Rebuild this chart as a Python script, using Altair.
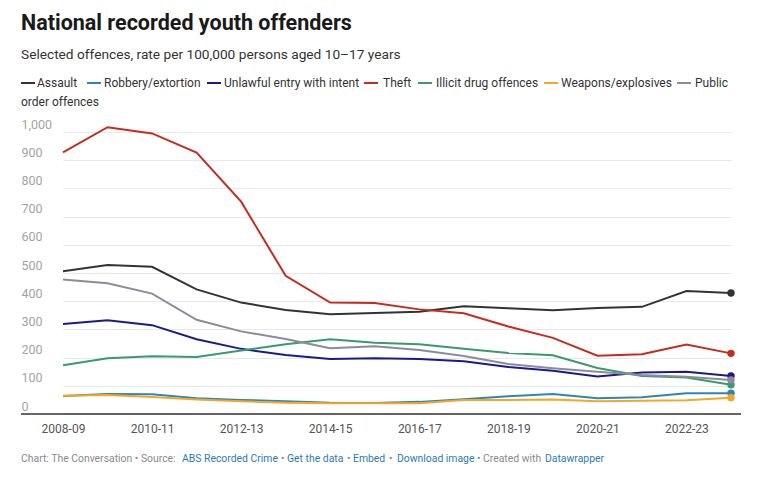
import altair as alt
import pandas as pd

# Financial years on the x axis
YEARS = ["2008-09", "2009-10", "2010-11", "2011-12", "2012-13", "2013-14",
         "2014-15", "2015-16", "2016-17", "2017-18", "2018-19", "2019-20",
         "2020-21", "2021-22", "2022-23", "2023-24"]

SERIES = ["Assault", "Robbery/extortion", "Unlawful entry with intent", "Theft",
          "Illicit drug offences", "Weapons/explosives", "Public order offences"]
COLORS = ["#333333", "#2a86c0", "#1a1a8c", "#c62b1e", "#3a9a6c", "#f7a623", "#8b8b9c"]

# Offenders per 100,000 persons aged 10-17
assault = [506, 528, 522, 442, 395, 369, 354, 358, 363, 382, 375, 368, 376, 380, 436, 429]
robbery = [64, 71, 70, 56, 50, 45, 40, 39, 43, 52, 63, 71, 56, 59, 74, 74]
unlawful_entry = [319, 332, 315, 265, 231, 209, 195, 198, 195, 187, 167, 153, 133, 147, 150, 135]
theft = [928, 1017, 995, 927, 753, 490, 395, 394, 371, 357, 310, 270, 207, 212, 246, 215]
illicit_drugs = [173, 198, 205, 202, 225, 247, 265, 253, 247, 231, 216, 208, 163, 135, 129, 104]
weapons = [65, 67, 60, 51, 45, 40, 38, 38, 38, 50, 50, 51, 45, 47, 49, 58]
public_order = [477, 464, 427, 334, 293, 266, 233, 240, 227, 206, 177, 162, 150, 138, 132, 121]

VALUES = [assault, robbery, unlawful_entry, theft, illicit_drugs, weapons, public_order]

rows = [{"year": y, "series": s, "rate": v}
        for s, vals in zip(SERIES, VALUES) for y, v in zip(YEARS, vals)]
df = pd.DataFrame(rows)

W, H = 720, 282
FONT = "Roboto"
LEFT, TOP = 21, 132

color = alt.Color("series:N", scale=alt.Scale(domain=SERIES, range=COLORS), legend=None)

x_enc = alt.X(
    "year:N",
    sort=YEARS,
    scale=alt.Scale(type="point", domain=YEARS, range=[42, 710], padding=0),
    axis=alt.Axis(values=YEARS[::2], title=None, labelAngle=0, domain=False,
                  ticks=False, grid=False, labelPadding=9, labelFontSize=12,
                  labelColor="#555555", labelFont=FONT),
)
y_enc = alt.Y(
    "rate:Q",
    scale=alt.Scale(domain=[0, 1000], nice=False),
    axis=alt.Axis(values=list(range(0, 1001, 100)), format=",d", title=None,
                  domain=False, ticks=False, tickSize=0, labelAlign="left",
                  labelBaseline="alphabetic", labelPadding=0, labelOffset=-4,
                  labelFlush=False, gridColor="#e8e8e8", gridWidth=1.2,
                  labelColor="#a3a3a3", labelFontSize=12.5, labelFont=FONT),
)

base = alt.Chart(df)
lines = base.mark_line(strokeWidth=2).encode(x=x_enc, y=y_enc, color=color)
dots = base.transform_filter(alt.datum.year == YEARS[-1]).mark_circle(
    size=55, opacity=1).encode(x=x_enc, y=y_enc, color=color)

one = alt.Data(values=[{}])

baseline = alt.Chart(one).mark_rule(color="#333333", strokeWidth=1.5).encode(
    x=alt.value(0), x2=alt.value(W), y=alt.value(H))


def text(t, x, y, size, color="#333333", weight="normal"):
    return alt.Chart(one).mark_text(
        text=t, align="left", baseline="middle", fontSize=size, font=FONT,
        color=color, fontWeight=weight).encode(
        x=alt.value(x - LEFT), y=alt.value(y - TOP))


def swatch(x, y, c):
    return alt.Chart(one).mark_rule(color=c, strokeWidth=2).encode(
        x=alt.value(x - LEFT), x2=alt.value(x - LEFT + 14), y=alt.value(y - TOP))


# Header
header = [
    text("National recorded youth offenders", 21, 24, 21.5, "#1a1a1a", "bold"),
    text("Selected offences, rate per 100,000 persons aged 10–17 years", 21, 55, 13.7, "#333333"),
]

# Legend: swatch start and label start for each series
SWATCH_X = [21, 87, 207, 364, 418, 544, 677]
LABEL_X = [37, 104, 224, 383, 436, 561, 695]
LEGEND_LABELS = ["Assault", "Robbery/extortion", "Unlawful entry with intent", "Theft",
                 "Illicit drug offences", "Weapons/explosives", "Public"]
legend = []
for sx, lx, lab, c in zip(SWATCH_X, LABEL_X, LEGEND_LABELS, COLORS):
    legend.append(swatch(sx, 83, c))
    legend.append(text(lab, lx, 83, 12, "#333333"))
legend.append(text("order offences", 21, 101.5, 12, "#333333"))

# Footer line with link-coloured segments
GRAY, BLUE = "#8a8a8a", "#2b7bb9"
FOOTER = [
    ("Chart: The Conversation • Source:", GRAY, 21),
    ("ABS Recorded Crime", BLUE, 182),
    ("•", GRAY, 281),
    ("Get the data", BLUE, 287),
    ("•", GRAY, 347),
    ("Embed", BLUE, 353),
    ("•", GRAY, 389),
    ("Download image", BLUE, 397),
    ("•", GRAY, 477),
    ("Created with", GRAY, 483),
    ("Datawrapper", BLUE, 545),
]
footer = [text(t, x, 459, 10.4, c) for t, c, x in FOOTER]

chart = alt.layer(lines, baseline, dots, *header, *legend, *footer).properties(
    width=W, height=H,
    autosize=alt.AutoSizeParams(type="none"),
    padding={"left": LEFT, "top": TOP, "right": 768 - LEFT - W, "bottom": 478 - TOP - H},
    background="white",
).configure_view(stroke=None)

chart.save("out.html", embed_options={"renderer": "svg", "actions": False})
